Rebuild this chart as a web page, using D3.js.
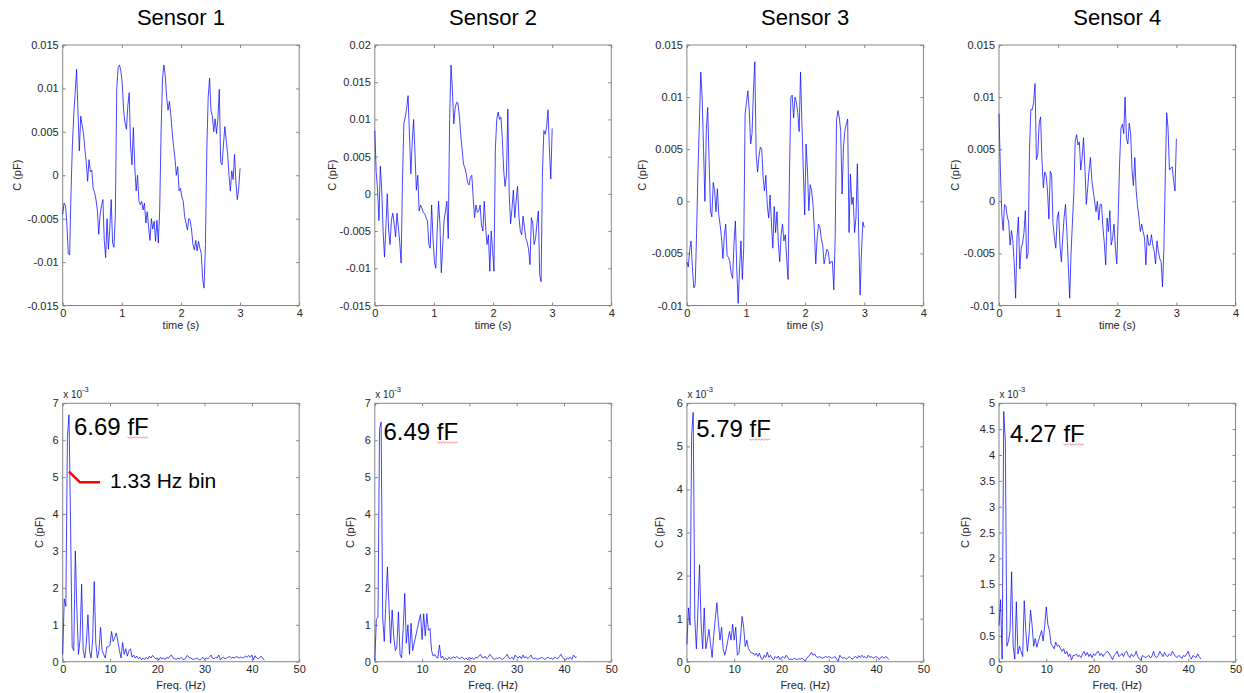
<!DOCTYPE html>
<html>
<head>
<meta charset="utf-8">
<script src="https://cdn.jsdelivr.net/npm/d3@7"></script>
<style>
  body { margin: 0; background: #fff; }
  svg { display: block; }
</style>
</head>
<body>
<svg id="chart" width="1244" height="693"></svg>
<script>
// ---------------- data ----------------
const sensorNames = ["Sensor 1", "Sensor 2", "Sensor 3", "Sensor 4"];

// capacitance change, units of 1e-3 pF, sampled every 3/128 s over 3 s
const sampleStep = 3 / 128;
const sensor1 = [
  -4.5, -3.2, -3.5, -5.5, -9.0, -9.2, -2.0, 3.5, 7.0, 9.5,
  12.2, 7.5, 2.8, 6.8, 5.8, 4.8, 3.0, 1.5, -0.7, 1.8,
  0.4, 0.6, -1.5, -2.0, -2.8, -4.0, -6.8, -4.5, -3.5, -2.8,
  -7.5, -9.5, -5.0, -8.5, -6.0, -2.8, -7.8, -8.3, -4.5, 10.0,
  12.4, 12.7, 12.0, 10.5, 7.4, 6.0, 5.3, 8.0, 9.5, 3.2,
  1.2, 5.5, 1.0, -1.8, 0.0, -3.0, -3.4, -3.0, -4.0, -3.2,
  -5.5, -4.2, -6.0, -7.5, -5.0, -6.2, -5.3, -7.6, -5.2, -7.8,
  -4.0, 5.0, 11.0, 12.7, 11.5, 9.0, 7.5, 8.5, 7.0, 5.0,
  3.3, 2.0, 0.0, 1.0, -1.8, -1.5, -2.5, -3.0, -4.8, -5.5,
  -6.3, -5.0, -5.2, -6.3, -8.0, -8.6, -7.5, -8.7, -7.6, -8.4,
  -9.0, -12.0, -13.0, -8.0, 3.0, 9.0, 11.2, 7.5, 6.8, 5.0,
  6.5, 4.8, 6.5, 9.9, 1.5, 1.2, 3.5, 5.6, 4.0, 2.5,
  0.0, -1.8, 0.5, -0.5, 2.4, -0.8, -2.8, -1.5, 0.8
];
const sensor2 = [
  8.5, 3.0, 0.5, -3.6, 3.7, 0.5, -5.0, -8.5, -4.5, 0.0,
  -5.0, -6.8, -3.5, -2.6, -4.0, -5.8, -2.6, -4.5, -6.5, -9.3,
  2.0, 9.5, 10.3, 11.5, 13.2, 8.0, 2.7, 7.0, 10.0, 5.5,
  0.5, 2.5, -2.3, -1.5, -1.9, -2.5, -2.7, -3.2, -3.6, -6.8,
  -7.3, -1.5, -6.0, -9.0, -10.0, -5.0, -1.0, -4.0, -10.6, -7.0,
  -3.5, -2.3, -1.0, -6.0, 10.0, 17.3, 14.0, 9.4, 11.5, 12.3,
  12.2, 10.5, 8.0, 6.0, 4.0, 3.5, 2.7, 1.5, 1.2, 2.2,
  2.5, -0.5, -3.2, -1.5, -2.5, -2.3, -1.5, -4.2, -5.0, -1.0,
  -4.5, -6.8, -5.5, -10.4, -5.0, -7.5, -10.4, 6.0, 10.0, 11.0,
  10.0, 10.3, 7.5, 3.2, 1.0, 2.5, 11.4, 0.0, -4.0, -2.0,
  0.5, -3.2, -1.0, 1.0, -3.0, -5.0, -5.5, -3.0, -4.5, -6.0,
  -6.5, -7.5, -9.5, -3.2, -4.0, -6.8, -6.0, -4.0, -2.3, -10.9,
  -11.8, 3.0, 8.5, 8.0, 9.0, 11.3, 6.0, 2.0, 8.8
];
const sensor3 = [
  -5.8, -6.3, -4.7, -3.8, -6.5, -8.3, -8.0, -3.0, 3.0, 7.5,
  12.4, 10.0, 5.0, 0.0, 6.8, 9.0, 4.0, -0.9, -1.5, 1.8,
  1.0, -1.0, 1.2, -1.3, -2.3, -3.5, -5.5, -3.3, -2.2, -5.2,
  -5.4, -5.8, -7.0, -7.4, -4.0, -1.9, -6.5, -9.8, -6.5, -3.8,
  -7.5, -4.5, 8.4, 9.5, 10.6, 8.7, 5.5, 6.5, 10.5, 13.4,
  4.5, 2.8, 4.3, 5.2, 5.0, 2.3, 1.0, 2.5, -0.4, -1.6,
  0.6, -2.0, -4.5, -0.5, -3.0, -1.0, -4.0, -5.8, -3.2, -2.2,
  -3.8, -3.2, -5.5, -7.5, 2.5, 10.0, 10.2, 8.0, 10.0, 9.5,
  8.5, 6.7, 12.4, 7.5, 3.0, -1.3, 5.5, 3.0, -0.9, 1.6,
  1.0, -0.3, -2.9, -6.0, -3.5, -2.2, -2.5, -3.6, -4.2, -6.0,
  -5.3, -4.6, -4.8, -6.0, -5.8, -5.8, -8.5, -3.5, 7.8, 8.7,
  8.0, 6.7, 0.7, 5.2, 6.8, 7.4, 7.9, -3.0, 2.6, -0.3,
  0.4, -3.0, -1.6, 3.6, -3.2, -9.0, -4.8, -2.0, -2.5
];
const sensor4 = [
  8.4, 3.0, -1.2, -2.8, -0.3, -0.5, -1.5, -2.0, -4.2, -2.8,
  -3.8, -6.0, -9.3, -3.5, -1.5, -6.5, -4.5, -4.0, -3.0, -0.9,
  -5.5, -5.0, 4.9, 8.8, 8.8, 9.5, 11.3, 4.0, 4.5, 7.5,
  8.1, 4.0, 1.3, 2.8, 2.5, 1.0, -1.7, 2.9, 2.5, -2.2,
  -3.5, -4.5, -1.6, -1.0, -4.2, -5.8, -3.5, -1.5, -0.3, -3.0,
  -6.0, -9.3, -5.0, -2.0, 0.8, 5.8, 6.4, 5.4, 5.7, 3.0,
  4.2, 6.1, 3.2, -0.3, 1.3, 3.0, 4.2, 2.0, 1.0, 0.0,
  -1.0, 0.0, -1.8, -0.3, -0.3, -2.5, -4.0, -6.1, -1.6, -2.9,
  -0.9, -4.2, -3.5, -2.2, -4.5, -6.0, -1.6, 3.5, 7.0, 7.4,
  6.5, 10.0, 6.0, 5.5, 7.5, 6.5, 3.0, 1.5, 4.2, 1.0,
  -0.5, -1.5, -2.9, -2.2, -2.9, -3.5, -6.1, -3.2, -4.2, -4.2,
  -3.2, -4.2, -4.8, -6.0, -3.8, -4.8, -5.5, -5.8, -8.2, -4.5,
  2.5, 8.5, 7.0, 3.0, 3.2, 3.3, 2.0, 1.0, 6.0
];

// amplitude spectra, units of 1e-3 pF, one bin every 1/3 Hz from 0 Hz
const binWidth = 1 / 3;
const peakBin = 4;
const spectrum1 = [
  0.2, 1.7, 1.5, 6.1, 6.69, 3.7, 0.4, 0.3, 3.0, 1.4,
  0.2, 0.6, 2.1, 0.3, 0.1, 0.5, 1.27, 0.3, 0.1, 0.6,
  2.17, 0.5, 0.1, 0.3, 0.93, 0.3, 0.2, 0.1, 0.4, 0.4,
  0.45, 0.82, 0.55, 0.65, 0.78, 0.55, 0.3, 0.1, 0.52, 0.2,
  0.35, 0.15, 0.3, 0.35, 0.12, 0.18, 0.1, 0.15, 0.08, 0.12,
  0.05, 0.1, 0.06, 0.12, 0.07, 0.15, 0.1, 0.17, 0.12, 0.08,
  0.1, 0.05, 0.12, 0.08, 0.1, 0.06, 0.12, 0.09, 0.15, 0.18,
  0.1, 0.08, 0.06, 0.1, 0.07, 0.12, 0.08, 0.05, 0.1, 0.17,
  0.12, 0.1, 0.08, 0.06, 0.08, 0.1, 0.07, 0.05, 0.08, 0.12,
  0.06, 0.1, 0.08, 0.12, 0.18, 0.1, 0.08, 0.12, 0.1, 0.18,
  0.05, 0.1, 0.12, 0.08, 0.1, 0.12, 0.14, 0.1, 0.12, 0.1,
  0.14, 0.12, 0.1, 0.13, 0.1, 0.12, 0.15, 0.12, 0.17, 0.12,
  0.18, 0.05, 0.16, 0.1, 0.08, 0.12, 0.15, 0.08, 0.05
];
const spectrum2 = [
  0.05, 1.15, 1.2, 6.3, 6.49, 1.2, 0.55, 1.6, 2.57, 1.5,
  0.5, 1.4, 0.7, 0.3, 0.4, 1.35, 0.2, 0.1, 0.9, 1.85,
  0.5, 1.0, 0.2, 1.04, 0.3, 0.5, 0.7, 0.9, 1.1, 1.28,
  0.6, 1.3, 0.7, 1.3, 0.85, 0.9, 0.3, 0.15, 0.2, 0.12,
  0.1, 0.45, 0.1, 0.15, 0.05,
  0.1, 0.05, 0.12, 0.08, 0.1, 0.13, 0.1, 0.14, 0.1, 0.08,
  0.12, 0.1, 0.06, 0.1, 0.05, 0.12, 0.08, 0.1, 0.06, 0.12,
  0.1, 0.14, 0.2, 0.12, 0.1, 0.15, 0.08, 0.12, 0.2, 0.15,
  0.08, 0.06, 0.1, 0.08, 0.12, 0.08, 0.06, 0.1, 0.14, 0.2,
  0.1, 0.08, 0.12, 0.06, 0.18, 0.12, 0.1, 0.15, 0.08, 0.18,
  0.1, 0.14, 0.08, 0.12, 0.18, 0.1, 0.08, 0.1, 0.06, 0.08,
  0.1, 0.12, 0.08, 0.06, 0.1, 0.12, 0.08, 0.1, 0.06, 0.12,
  0.1, 0.08, 0.14, 0.2, 0.12, 0.08, 0.04, 0.1, 0.08, 0.12,
  0.06, 0.18, 0.12, 0.13
];
const spectrum3 = [
  0.4, 1.25, 0.85, 5.27, 5.79, 1.0, 0.3, 1.2, 2.25, 0.9,
  0.3, 1.25, 0.3, 0.5, 0.75, 0.4, 0.1, 0.6, 1.0, 1.37,
  0.9, 0.5, 0.8, 0.3, 0.15, 0.3, 0.5, 0.7, 0.5, 0.87,
  0.5, 0.8, 0.15, 0.2, 0.55, 1.05, 0.8, 0.35, 0.5, 0.3,
  0.25, 0.2, 0.2, 0.15, 0.2,
  0.12, 0.2, 0.08, 0.05, 0.15, 0.1, 0.22, 0.1, 0.15, 0.08,
  0.05, 0.12, 0.08, 0.13, 0.05, 0.1, 0.12, 0.08, 0.15, 0.1,
  0.05, 0.06, 0.05, 0.08, 0.06, 0.05, 0.07, 0.06, 0.08, 0.05,
  0.01, 0.08, 0.12, 0.15, 0.22, 0.15, 0.18, 0.12, 0.1, 0.12,
  0.1, 0.08, 0.1, 0.12, 0.1, 0.12, 0.1, 0.08, 0.1, 0.12,
  0.06, 0.01, 0.15, 0.1, 0.08, 0.1, 0.06, 0.08, 0.12, 0.08,
  0.06, 0.1, 0.12, 0.08, 0.14, 0.1, 0.15, 0.1, 0.12, 0.08,
  0.15, 0.1, 0.12, 0.08, 0.1, 0.12, 0.1, 0.05, 0.1, 0.12,
  0.08, 0.12, 0.1, 0.05
];
const spectrum4 = [
  0.7, 1.2, 0.05, 4.84, 4.27, 0.3, 0.4, 0.6, 1.74, 0.3,
  0.05, 1.16, 0.15, 0.3, 0.2, 0.1, 1.18, 0.6, 0.2, 0.5,
  1.0, 0.7, 0.3, 0.45, 0.28, 0.4, 0.5, 0.6, 0.4, 0.7,
  1.06, 0.72, 0.6, 0.35, 0.3, 0.25, 0.38, 0.3, 0.32, 0.25,
  0.2, 0.25, 0.15, 0.2, 0.1, 0.15, 0.03, 0.12,
  0.12, 0.15, 0.1, 0.12, 0.08, 0.15, 0.2, 0.12, 0.18, 0.1,
  0.15, 0.08, 0.15, 0.12, 0.18, 0.2, 0.12, 0.16, 0.1, 0.15,
  0.18, 0.2, 0.15, 0.1, 0.04, 0.12, 0.15, 0.2, 0.1, 0.12,
  0.16, 0.1, 0.18, 0.2, 0.12, 0.08, 0.15, 0.1, 0.12, 0.2,
  0.1, 0.05, 0.03, 0.12, 0.1, 0.08, 0.1, 0.12, 0.08, 0.1,
  0.2, 0.1, 0.08, 0.12, 0.2, 0.15, 0.1, 0.18, 0.12, 0.1,
  0.15, 0.12, 0.2, 0.15, 0.1, 0.08, 0.12, 0.1, 0.06, 0.12,
  0.1, 0.15, 0.2, 0.1, 0.05, 0.12, 0.1, 0.08, 0.15, 0.1,
  0.05
];

const timeSeries = [sensor1, sensor2, sensor3, sensor4];
const spectra = [spectrum1, spectrum2, spectrum3, spectrum4];

// axis ranges and tick labels
const timeXTicks = [0, 1, 2, 3, 4];
const timeXTickLabels = ["0", "1", "2", "3", "4"];
const timeYDomains = [[-0.015, 0.015], [-0.015, 0.02], [-0.01, 0.015], [-0.01, 0.015]];
const timeYTicks = [
  [-0.015, -0.01, -0.005, 0, 0.005, 0.01, 0.015],
  [-0.015, -0.01, -0.005, 0, 0.005, 0.01, 0.015, 0.02],
  [-0.01, -0.005, 0, 0.005, 0.01, 0.015],
  [-0.01, -0.005, 0, 0.005, 0.01, 0.015]
];
const timeYTickLabels = [
  ["-0.015", "-0.01", "-0.005", "0", "0.005", "0.01", "0.015"],
  ["-0.015", "-0.01", "-0.005", "0", "0.005", "0.01", "0.015", "0.02"],
  ["-0.01", "-0.005", "0", "0.005", "0.01", "0.015"],
  ["-0.01", "-0.005", "0", "0.005", "0.01", "0.015"]
];
const freqXTicks = [0, 10, 20, 30, 40, 50];
const freqXTickLabels = ["0", "10", "20", "30", "40", "50"];
const freqYDomains = [[0, 7], [0, 7], [0, 6], [0, 5]];
const freqYTicks = [
  [0, 1, 2, 3, 4, 5, 6, 7],
  [0, 1, 2, 3, 4, 5, 6, 7],
  [0, 1, 2, 3, 4, 5, 6],
  [0, 0.5, 1, 1.5, 2, 2.5, 3, 3.5, 4, 4.5, 5]
];
const freqYTickLabels = [
  ["0", "1", "2", "3", "4", "5", "6", "7"],
  ["0", "1", "2", "3", "4", "5", "6", "7"],
  ["0", "1", "2", "3", "4", "5", "6"],
  ["0", "0.5", "1", "1.5", "2", "2.5", "3", "3.5", "4", "4.5", "5"]
];

// ---------------- layout ----------------
const FONT = '"Liberation Sans", Arial, Helvetica, sans-serif';
const BOX = "#868686";
const INK = "#262626";
const LINE = "#0a0aff";

const colLeft0 = 62.7, colStep = 312.1, plotW = 236.5;
const topRow = { y: 45, h: 260.5 };
const botRow = { y: 403.3, h: 258.4 };
const yLabelGapTop = [45, 42.5, 44.5, 44];
const yLabelGapBot = [23.5, 24.5, 27, 34];
// peak annotation anchor (from plot's top-left corner)
const annotOffset = [[11.3, 31.7], [8.7, 36.7], [9.3, 33.7], [11, 38.7]];

const svg = d3.select("#chart");
svg.append("rect").attr("width", 1244).attr("height", 693).attr("fill", "#fff");

function drawPanel(o) {
  const g = svg.append("g").attr("transform", `translate(${o.left},${o.top})`);
  const x = d3.scaleLinear().domain(o.xDomain).range([0, o.w]);
  const y = d3.scaleLinear().domain(o.yDomain).range([o.h, 0]);

  const style = sel => {
    sel.attr("font-family", FONT).attr("font-size", 11);
    sel.select(".domain").remove();
    sel.selectAll(".tick line").attr("stroke", BOX).attr("stroke-width", 1);
    sel.selectAll(".tick text").attr("fill", INK);
  };

  g.append("g")
    .call(d3.axisLeft(y).tickValues(o.yTicks).tickFormat((d, i) => o.yTickLabels[i])
      .tickSizeInner(-3).tickSizeOuter(0).tickPadding(4))
    .call(style);
  g.append("g").attr("transform", `translate(${o.w},0)`)
    .call(d3.axisRight(y).tickValues(o.yTicks).tickFormat("").tickSizeInner(-3).tickSizeOuter(0))
    .call(style);
  g.append("g").attr("transform", `translate(0,${o.h})`)
    .call(d3.axisBottom(x).tickValues(o.xTicks).tickFormat((d, i) => o.xTickLabels[i])
      .tickSizeInner(-3).tickSizeOuter(0).tickPadding(4))
    .call(style);
  g.append("g")
    .call(d3.axisTop(x).tickValues(o.xTicks).tickFormat("").tickSizeInner(-3).tickSizeOuter(0))
    .call(style);

  g.append("rect").attr("width", o.w).attr("height", o.h)
    .attr("fill", "none").attr("stroke", BOX).attr("stroke-width", 1);

  g.append("path")
    .datum(o.values)
    .attr("fill", "none")
    .attr("stroke", LINE)
    .attr("stroke-width", 0.75)
    .attr("stroke-linejoin", "round")
    .attr("d", d3.line().x((d, i) => x(i * o.step)).y(d => y(d * o.valueScale)));

  g.append("text")
    .attr("x", o.w / 2).attr("y", o.h + o.xLabelDy)
    .attr("text-anchor", "middle")
    .attr("font-family", FONT).attr("font-size", 11).attr("fill", INK)
    .text(o.xLabel);

  g.append("text")
    .attr("transform", `translate(${-o.yLabelGap + 3.5},${o.h / 2}) rotate(-90)`)
    .attr("text-anchor", "middle")
    .attr("font-family", FONT).attr("font-size", 11).attr("fill", INK)
    .text("C (pF)");

  return { g, x, y };
}

function squiggle(g, x0, x1, yy) {
  const pts = [];
  let up = true;
  for (let xx = x0; xx <= x1; xx += 1.6) { pts.push([xx, yy + (up ? -0.8 : 0.8)]); up = !up; }
  g.append("path").attr("d", d3.line()(pts))
    .attr("fill", "none").attr("stroke", "#ee7f86").attr("stroke-width", 0.9);
}

sensorNames.forEach((name, i) => {
  const left = colLeft0 + colStep * i;

  // title
  svg.append("text")
    .attr("x", left + plotW / 2).attr("y", 25)
    .attr("text-anchor", "middle")
    .attr("font-family", FONT).attr("font-size", 22).attr("fill", "#000")
    .text(name);

  // time domain
  drawPanel({
    left, top: topRow.y, w: plotW, h: topRow.h,
    xDomain: [0, 4], yDomain: timeYDomains[i],
    xTicks: timeXTicks, xTickLabels: timeXTickLabels,
    yTicks: timeYTicks[i], yTickLabels: timeYTickLabels[i],
    values: timeSeries[i], step: sampleStep, valueScale: 1e-3,
    xLabel: "time (s)", xLabelDy: 23.5, yLabelGap: yLabelGapTop[i]
  });

  // frequency domain
  const p = drawPanel({
    left, top: botRow.y, w: plotW, h: botRow.h,
    xDomain: [0, 50], yDomain: freqYDomains[i],
    xTicks: freqXTicks, xTickLabels: freqXTickLabels,
    yTicks: freqYTicks[i], yTickLabels: freqYTickLabels[i],
    values: spectra[i], step: binWidth, valueScale: 1,
    xLabel: "Freq. (Hz)", xLabelDy: 27, yLabelGap: yLabelGapBot[i]
  });

  // exponent marker
  const ex = p.g.append("text")
    .attr("x", 0.5).attr("y", -5)
    .attr("font-family", FONT).attr("font-size", 10).attr("fill", INK);
  ex.append("tspan").text("x 10");
  ex.append("tspan").attr("dy", -6).attr("font-size", 7.5).text("-3");

  // value of the 1.33 Hz bin
  const [ax, ay] = annotOffset[i];
  const label = p.g.append("text")
    .attr("x", ax).attr("y", ay)
    .attr("font-family", FONT).attr("font-size", 24).attr("fill", "#000")
    .text(`${spectra[i][peakBin].toFixed(2)} fF`);
  const node = label.node();
  const total = node.getComputedTextLength();
  const start = node.getSubStringLength(0, node.textContent.length - 2);
  squiggle(p.g, ax + start, ax + total + 1, ay + 2.5);

  if (i === 0) {
    const pointerFreq = [peakBin * binWidth, 3.67, 7.9];
    const pointerVal = [5.15, 4.86, 4.86];
    p.g.append("path")
      .attr("d", d3.line()(pointerFreq.map((f, k) => [p.x(f), p.y(pointerVal[k])])))
      .attr("fill", "none").attr("stroke", "#ff0000").attr("stroke-width", 2.5);
    p.g.append("text")
      .attr("x", p.x(10.0)).attr("y", p.y(4.71))
      .attr("font-family", FONT).attr("font-size", 21).attr("fill", "#000")
      .text(`${(peakBin * binWidth).toFixed(2)} Hz bin`);
  }
});
</script>
</body>
</html>
